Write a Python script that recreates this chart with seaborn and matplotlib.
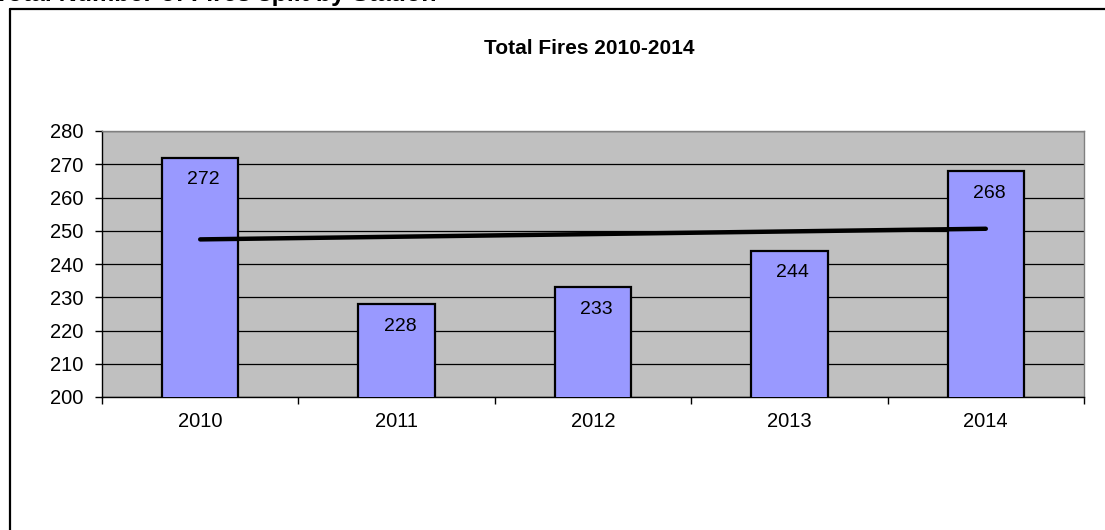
import numpy as np
import pandas as pd
import matplotlib
matplotlib.use("Agg")
import matplotlib.pyplot as plt
import seaborn as sns
from matplotlib.lines import Line2D

years = ["2010", "2011", "2012", "2013", "2014"]
fires = [272, 228, 233, 244, 268]
y_ticks = [200, 210, 220, 230, 240, 250, 260, 270, 280]
chart_title = "Total Fires 2010-2014"
page_heading = "Total Number of Fires split by Station"

sns.set_theme(style="white")
plt.rcParams["font.family"] = ["Liberation Sans", "DejaVu Sans"]

W, H = 1105, 530
fig = plt.figure(figsize=(W / 100, H / 100), dpi=100)
fig.patch.set_facecolor("white")

ax = fig.add_axes([102 / W, 1 - 397 / H, (1084 - 102) / W, (397 - 131) / H])
ax.set_facecolor("#C0C0C0")

df = pd.DataFrame({"year": years, "fires": fires})
sns.barplot(data=df, x="year", y="fires", color="#9999FF", saturation=1,
            width=0.39, edgecolor="black", linewidth=1.6, ax=ax, zorder=3)

ax.set_ylim(200, 280)
ax.set_xlim(-0.5, len(years) - 0.5)
ax.set_yticks(y_ticks)
ax.yaxis.grid(True, color="black", linewidth=0.9)
ax.set_axisbelow(True)
for gl in ax.get_ygridlines():
    gl.set_zorder(1)

FS = 14.5

# x ticks at category boundaries, labels at centers
ax.set_xticks(np.arange(len(years) + 1) - 0.5, minor=False)
ax.set_xticklabels([])
ax.set_xticks(np.arange(len(years)), minor=True)
ax.set_xticklabels(years, minor=True)
ax.tick_params(axis="x", which="major", direction="out", length=5, width=1, color="black", bottom=True)
ax.tick_params(axis="x", which="minor", length=0, labelsize=FS, pad=11, labelcolor="black")
ax.tick_params(axis="y", direction="out", length=5, width=1, color="black", left=True,
               labelsize=FS, labelcolor="black", pad=8.5)
ax.set_xlabel("")
ax.set_ylabel("")

for s in ["top", "right"]:
    ax.spines[s].set_color("#808080")
    ax.spines[s].set_linewidth(1)
for s in ["left", "bottom"]:
    ax.spines[s].set_color("black")
    ax.spines[s].set_linewidth(1)

# data labels
for i, v in enumerate(fires):
    ax.annotate(str(v), xy=(i, v), xytext=(2.5, -16), textcoords="offset points",
                ha="center", va="center", fontsize=FS - 0.5, color="black", zorder=5)

# linear trendline
xs = np.arange(len(fires))
m, b = np.polyfit(xs, fires, 1)
ax.plot([xs[0], xs[-1]], [m * xs[0] + b, m * xs[-1] + b], color="black", linewidth=3.2,
        solid_capstyle="round", zorder=4)

# title
fig.text(589 / W, 1 - 48 / H, chart_title, ha="center", va="center",
         fontsize=15, fontweight="bold", color="black")

# outer chart border
fig.add_artist(Line2D([9.5 / W, 9.5 / W], [1 - 8.5 / H, 0], transform=fig.transFigure,
                      color="black", linewidth=1.6))
fig.add_artist(Line2D([9.5 / W, 1], [1 - 8.5 / H, 1 - 8.5 / H], transform=fig.transFigure,
                      color="black", linewidth=1.6))

# clipped page heading above
fig.text(-6 / W, 1 - 1 / H, page_heading, ha="left", va="baseline",
         fontsize=18, fontweight="bold", color="black")

fig.savefig("out.png", dpi=100)
